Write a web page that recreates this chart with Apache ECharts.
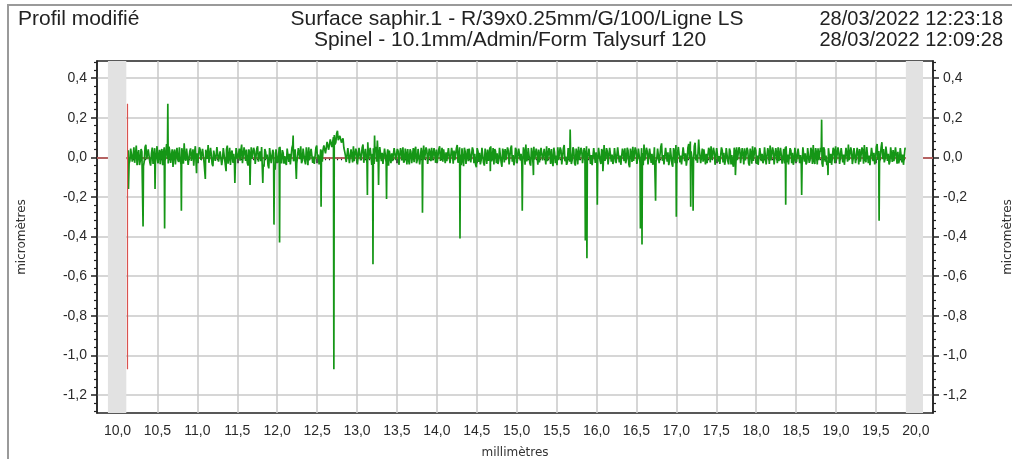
<!DOCTYPE html>
<html><head><meta charset="utf-8">
<script src="https://cdn.jsdelivr.net/npm/echarts@6/dist/echarts.min.js"></script>
<style>html,body{margin:0;padding:0;background:#fff;overflow:hidden}#c{width:1012px;height:459px}</style>
</head><body><div id="c"></div>
<script>
// ---- texts ----
const headerLeft = 'Profil modifié';
const headerLine1 = 'Surface saphir.1 - R/39x0.25mm/G/100/Ligne LS';
const headerLine2 = 'Spinel - 10.1mm/Admin/Form Talysurf 120';
const date1 = '28/03/2022 12:23:18';
const date2 = '28/03/2022 12:09:28';
const xAxisName = 'millimètres';
const yAxisName = 'micromètres';

// ---- axes (tick labels) ----
const xTicks = [10.0, 10.5, 11.0, 11.5, 12.0, 12.5, 13.0, 13.5, 14.0, 14.5, 15.0, 15.5, 16.0, 16.5, 17.0, 17.5, 18.0, 18.5, 19.0, 19.5, 20.0];
const yTicks = [-1.2, -1.0, -0.8, -0.6, -0.4, -0.2, 0.0, 0.2, 0.4];
const xRange = [9.743, 20.215];
const yRange = [-1.291, 0.486];

// ---- profile data (mm / nm) ----
const profileStartMm = 10.135;
const profileStepMm = 0.02;
// samples at start + i*step
const profileNm = [
 35,-17,53,7,-28,59,14,-39,42,25,-21,63,-7,31,-42,49,11,-25,56,3,
 -35,42,21,-14,67,-31,28,7,-49,39,17,-11,50,-36,25,70,-17,35,-28,45,
 8,-42,56,20,-22,39,-8,48,-34,28,62,-20,14,-45,36,6,53,-28,22,-11,
 42,-25,59,0,-39,34,17,-50,48,11,-17,64,-31,25,39,-42,20,50,-14,31,
 -36,56,8,-20,45,-48,28,14,-56,36,-25,20,-63,42,-11,53,-31,22,6,-39,
 48,17,-28,62,-8,39,-42,25,56,-17,34,-36,11,50,-22,42,3,-31,59,14,
 -20,36,40,68,30,84,44,96,56,112,76,134,92,116,64,48,8,-22,42,-28,
 34,56,-14,25,-39,48,11,64,-20,36,76,-8,42,17,-34,53,84,-11,62,22,
 -28,45,8,-42,39,20,-22,56,-11,31,-48,25,50,-17,14,42,-36,28,6,-25,
 53,-14,36,-31,17,59,-6,34,-42,22,48,-20,11,39,-34,56,3,-22,42,25,
 -17,50,-39,20,34,-8,62,-28,14,45,-45,28,8,-20,53,-34,36,17,-50,31,
 22,-14,48,-42,6,39,-25,56,0,-36,31,20,-17,50,-48,25,42,-11,34,-28,
 59,11,-22,36,-39,48,17,-31,28,64,-8,42,-42,22,53,-20,14,39,-34,45,
 -11,34,56,-28,20,42,-45,25,8,50,-17,36,-36,62,3,-25,45,28,-14,39,
 -42,22,53,-8,34,-31,17,56,-22,42,11,-48,36,25,-17,50,-34,28,62,-6,
 31,-39,48,14,-20,39,-28,59,8,-42,25,45,-11,34,-50,20,53,-25,36,0,
 42,-34,22,64,-14,31,-45,50,17,-22,56,-8,36,-39,70,11,-28,48,25,-17,
 39,-48,28,62,-20,45,8,-36,53,20,-11,67,80,34,-25,73,14,-31,50,3,
 -22,42,17,-39,34,56,-14,25,-42,48,6,-28,36,22,-17,53,-36,31,11,-48,
 28,50,-20,39,-31,14,45,-11,34,-42,20,56,-25,36,8,-34,48,17,-14,42,
 -39,25,59,-6,31,-45,20,50,-22,39,0,-31,56,14,-36,34,22,-17,48,-28,
 36,11,-42,53,20,-25,42,-14,31,62,-34,22,45,-20,28,-48,39,8,-28,50,
 17,-36,34,56,-11,25,-31,48,14,-42,39,64,-22,31,-6,50,-39,20,42,-17,
 34,62,-25,45,8,-34,53,22,-14,67,31,-28,76,42,-8,59,17,-22,50,36,
 -20,56,28,-11,48,14,-31,39
];
// samples half-way, at start + (i + 0.5)*step
const profileMidNm = [
 -30,44,-22,50,12,-40,36,-18,28,-44,52,-10,40,-26,20,-34,46,8,-30,38,
 26,-40,50,-20,-8,54,-28,40,22,-36,48,-24,-14,46,-32,-6,44,-38,30,-18,
 40,24,-36,-26,50,-14,42,-30,38,-8,-28,48,-34,34,-18,52,-22,30,-40,46,
 -20,40,-32,48,22,-28,-36,46,-10,44,34,-30,50,-18,-26,40,-38,-8,48,-34,
 44,-22,30,52,-36,42,-8,-40,46,-30,38,-42,40,-26,50,-14,36,-32,-28,44,
 -24,-36,48,-20,40,-32,46,-10,-30,44,-18,50,-40,-14,42,-28,-34,48,-8,-36,
 40,-22,60,20,78,38,90,52,102,64,120,86,108,74,96,30,-24,46,-30,40,
 -26,-20,44,-36,48,-16,50,-28,42,-30,-10,48,-38,46,30,-22,-4,52,-20,-34,
 44,-26,40,34,-30,-20,46,-14,42,-38,46,-16,-28,44,-36,-12,40,-30,46,36,
 -30,42,-36,48,-22,-12,50,-34,44,-20,-16,46,-28,-26,42,-18,48,40,-30,-20,
 46,-30,48,-32,-14,44,-28,50,-40,-16,48,-34,42,44,-26,50,-30,-36,46,-24,
 -36,48,-28,44,-34,-18,50,-20,46,42,-30,-34,48,-24,44,-26,-14,50,-36,46,
 -22,-40,48,-30,44,-16,-36,50,-38,-20,46,-30,48,-34,-12,44,-38,-26,48,-16,
 42,-36,-20,46,-34,-18,48,-30,-40,-14,50,-36,44,-20,-38,46,-22,-34,50,-30,
 44,-36,-14,48,-30,46,-38,-16,44,-34,-40,46,-28,-32,48,-18,42,-36,-18,46,
 -36,48,-22,-34,46,-30,50,-26,-38,44,-20,-30,48,-36,44,-24,-18,50,-34,44,
 -30,46,-40,-16,48,-36,44,-28,-38,50,-24,44,-30,52,-18,-36,48,-22,-40,46,
 -34,46,-30,-12,52,-26,-36,50,-20,-42,48,-8,30,-34,56,-16,-28,50,-30,44,
 40,-36,-30,48,-26,-12,48,-38,46,-22,-34,50,-26,-38,46,-20,44,-36,-30,48,
 -40,-14,50,-30,46,-36,-16,48,-30,44,-32,-18,50,-34,-38,46,-20,-30,50,-36,
 46,-34,-16,50,-36,46,-30,-20,48,-32,42,50,-26,-36,46,-30,-38,48,-24,44,
 -30,-38,50,-22,-36,46,-28,48,-34,-18,46,-36,-14,48,-30,50,-22,-40,46,-28,
 -38,48,-30,-16,50,-34,46,-26,-38,48,-22,-14,50,-34,46,-30,48,-36,-22,50,
 -32,-12,52,-30,-40,48,-20,-36,52,-14,-30,50,-10,-26,54,-18,-36,50,-24,-20,
 50,-32,-30,46,-26,-38,48
];
// isolated peaks / scratches (mm, µm)
const spikeX = [10.137,10.32,10.47,10.59,10.63,10.80,10.99,11.10,11.36,11.47,11.66,11.82,11.96,12.03,12.20,12.24,12.55,12.71,13.13,13.20,13.22,13.27,13.37,13.82,14.29,14.67,15.07,15.21,15.67,15.86,15.88,16.01,16.08,16.55,16.57,16.74,17.00,17.18,17.21,17.28,17.74,18.37,18.57,18.82,18.90,19.54];
const spikeY = [-0.16,-0.35,-0.16,-0.36,0.27,-0.27,-0.08,-0.11,-0.07,-0.13,-0.14,-0.13,-0.34,-0.43,0.11,-0.11,-0.25,-1.07,-0.19,-0.54,0.11,-0.14,-0.21,-0.28,-0.41,-0.07,-0.27,-0.09,0.14,-0.42,-0.51,-0.24,-0.07,-0.36,-0.44,-0.22,-0.30,-0.25,-0.27,0.09,-0.09,-0.24,-0.19,0.19,-0.09,-0.32];

const excludedBands = [[9.88, 10.11], [19.875, 20.09]];
const cursorX = 10.12;
const cursorY = [-1.07, 0.27];

// ---- build ----
const profile = profileNm.map((v, i) => [+(profileStartMm + i * profileStepMm).toFixed(4), v / 1000]);
profileMidNm.forEach((v, i) => profile.push([+(profileStartMm + (i + 0.5) * profileStepMm).toFixed(4), v / 1000]));
spikeX.forEach((x, k) => profile.push([x, spikeY[k]]));
profile.sort((a, b) => a[0] - b[0]);

const xMinor = [];
for (let i = 0; i < xTicks.length - 1; i++) {
  for (let k = 1; k < 10; k++) xMinor.push(+(xTicks[i] + (xTicks[i + 1] - xTicks[i]) * k / 10).toFixed(3));
}
const yMinor = [];
const yFull = [-1.4].concat(yTicks, [0.6]);
for (let i = 0; i < yFull.length - 1; i++) {
  for (let k = 1; k < 5; k++) {
    const v = +(yFull[i] + (yFull[i + 1] - yFull[i]) * k / 5).toFixed(3);
    if (v > yRange[0] && v < yRange[1]) yMinor.push(v);
  }
}
const fmt = v => (Math.abs(v) < 1e-9 ? 0 : v).toFixed(1).replace('.', ',');

const AX = '#222';
const GRIDC = '#c9c9c9';
const labelFont = {fontFamily: 'Liberation Sans', fontSize: 14, color: '#2a2a2a'};
const nameFont = {fontFamily: 'DejaVu Sans', fontSize: 12, color: '#333'};
const headFont = '21px "Liberation Sans"';
const dateFont = '20px "Liberation Sans"';

const chart = echarts.init(document.getElementById('c'), null, {renderer: 'canvas'});
chart.setOption({
  animation: false,
  backgroundColor: '#fff',
  grid: {left: 97, right: 79, top: 61, bottom: 46, containLabel: false, outerBoundsMode: 'none',
         show: true, borderColor: AX, borderWidth: 1.5, backgroundColor: '#fff'},
  xAxis: [
    {type: 'value', min: xRange[0], max: xRange[1], position: 'bottom',
     name: xAxisName, nameLocation: 'middle', nameGap: 34, nameTextStyle: nameFont,
     axisLine: {show: true, lineStyle: {color: AX, width: 1.5}},
     axisTick: {show: true, customValues: xTicks, length: 6, inside: false, lineStyle: {color: AX, width: 1.5}},
     axisLabel: {show: true, customValues: xTicks, formatter: fmt, margin: 11, ...labelFont},
     splitLine: {show: true, lineStyle: {color: GRIDC, width: 1.5}}},
    {type: 'value', min: xRange[0], max: xRange[1], position: 'bottom',
     axisLine: {show: false},
     axisTick: {show: true, customValues: xMinor, length: 3, inside: false, lineStyle: {color: AX, width: 1.2}},
     axisLabel: {show: false}, splitLine: {show: false}}
  ],
  yAxis: [
    {type: 'value', min: yRange[0], max: yRange[1], position: 'left',
     name: yAxisName, nameLocation: 'middle', nameGap: 69, nameRotate: 90, nameTextStyle: nameFont,
     axisLine: {show: true, lineStyle: {color: AX, width: 1.5}},
     axisTick: {show: true, customValues: yTicks, length: 6, lineStyle: {color: AX, width: 1.5}},
     axisLabel: {show: true, customValues: yTicks, formatter: fmt, margin: 10, ...labelFont},
     splitLine: {show: true, lineStyle: {color: GRIDC, width: 1.5}}},
    {type: 'value', min: yRange[0], max: yRange[1], position: 'left',
     axisLine: {show: false},
     axisTick: {show: true, customValues: yMinor, length: 3, lineStyle: {color: AX, width: 1.2}},
     axisLabel: {show: false}, splitLine: {show: false}},
    {type: 'value', min: yRange[0], max: yRange[1], position: 'right',
     name: yAxisName, nameLocation: 'middle', nameGap: 69, nameRotate: 90, nameTextStyle: nameFont,
     axisLine: {show: true, lineStyle: {color: AX, width: 1.5}},
     axisTick: {show: true, customValues: yTicks, length: 6, lineStyle: {color: AX, width: 1.5}},
     axisLabel: {show: true, customValues: yTicks, formatter: fmt, margin: 10, ...labelFont},
     splitLine: {show: false}},
    {type: 'value', min: yRange[0], max: yRange[1], position: 'right',
     axisLine: {show: false},
     axisTick: {show: true, customValues: yMinor, length: 3, lineStyle: {color: AX, width: 1.2}},
     axisLabel: {show: false}, splitLine: {show: false}}
  ],
  graphic: [
    {type: 'rect', silent: true, z: 100, shape: {x: 8, y: 5, width: 1100, height: 600},
     style: {fill: 'none', stroke: '#9a9a9a', lineWidth: 2}},
    {type: 'text', silent: true, x: 18, y: 19, style: {text: headerLeft, font: headFont, fill: '#222', textAlign: 'left', textVerticalAlign: 'middle'}},
    {type: 'text', silent: true, x: 517, y: 19, style: {text: headerLine1, font: headFont, fill: '#222', textAlign: 'center', textVerticalAlign: 'middle'}},
    {type: 'text', silent: true, x: 510, y: 40, style: {text: headerLine2, font: headFont, fill: '#222', textAlign: 'center', textVerticalAlign: 'middle'}},
    {type: 'text', silent: true, x: 1003, y: 19, style: {text: date1, font: dateFont, fill: '#222', textAlign: 'right', textVerticalAlign: 'middle'}},
    {type: 'text', silent: true, x: 1003, y: 40, style: {text: date2, font: dateFont, fill: '#222', textAlign: 'right', textVerticalAlign: 'middle'}}
  ],
  series: [
    {type: 'line', name: 'zero', data: [], xAxisIndex: 0, yAxisIndex: 0, z: 1,
     markLine: {silent: true, z: 1, symbol: ['none', 'none'], label: {show: false},
       lineStyle: {color: '#d86a6a', width: 1.5, type: 'solid'}, data: [{yAxis: 0}]}},
    {type: 'line', name: 'profil', data: profile, xAxisIndex: 0, yAxisIndex: 0, z: 2,
     showSymbol: false, symbol: 'none', sampling: null,
     lineStyle: {color: '#159616', width: 1.7}},
    {type: 'line', name: 'bands', data: [], xAxisIndex: 0, yAxisIndex: 0, z: 3,
     markArea: {silent: true, z: 3, itemStyle: {color: '#e2e2e2'},
       data: excludedBands.map(b => [{xAxis: b[0]}, {xAxis: b[1]}])},
     markLine: {silent: true, z: 4, symbol: ['none', 'none'], label: {show: false},
       lineStyle: {color: '#d9534f', width: 1.2, type: 'solid'},
       data: [[{coord: [cursorX, cursorY[0]]}, {coord: [cursorX, cursorY[1]]}]]}}
  ]
});
</script>
</body></html>
